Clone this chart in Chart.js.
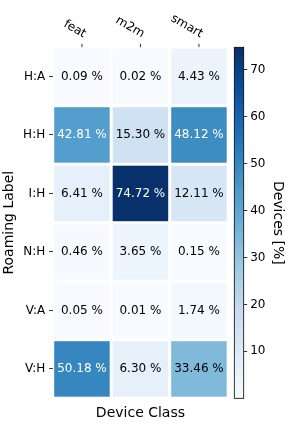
<!DOCTYPE html>
<html><head><meta charset="utf-8">
<script src="https://cdn.jsdelivr.net/npm/chart.js@4"></script>
<style>
html,body{margin:0;padding:0;background:#fff;}
#wrap{position:relative;width:288px;height:432px;}
canvas{position:absolute;left:0;top:0;}
</style>
</head><body>
<div id="wrap"><canvas id="main" width="288" height="432"></canvas><canvas id="cb" width="288" height="432"></canvas></div>
<script>
const deviceClasses = ['feat', 'm2m', 'smart'];
const roamingLabels = ['H:A', 'H:H', 'I:H', 'N:H', 'V:A', 'V:H'];
const featValues  = [0.09, 42.81, 6.41, 0.46, 0.05, 50.18];
const m2mValues   = [0.02, 15.30, 74.72, 3.65, 0.01, 6.30];
const smartValues = [4.43, 48.12, 12.11, 0.15, 1.74, 33.46];
const colorbarTicks = [10, 20, 30, 40, 50, 60, 70];

const FONT = "'DejaVu Sans', sans-serif";
const columns = [featValues, m2mValues, smartValues];
const allVals = columns.flat();
const vmin = Math.min(...allVals);
const vmax = Math.max(...allVals);

const BLUES = ['#f7fbff','#deebf7','#c6dbef','#9ecae1','#6baed6','#4292c6','#2171b5','#08519c','#08306b'];
function hex2rgb(h){return [1,3,5].map(i=>parseInt(h.slice(i,i+2),16));}
const BLUES_RGB = BLUES.map(hex2rgb);
function blues(t){
  t = Math.max(0, Math.min(1, t));
  const s = t * (BLUES_RGB.length - 1);
  const i = Math.min(Math.floor(s), BLUES_RGB.length - 2);
  const f = s - i;
  const a = BLUES_RGB[i], b = BLUES_RGB[i+1];
  return 'rgb(' + a.map((v,k)=>Math.round(v + (b[k]-v)*f)).join(',') + ')';
}
function norm(v){ return (v - vmin) / (vmax - vmin); }

const cellData = [];
columns.forEach((col, c) => col.forEach((v, r) => cellData.push({x: c, y: r, v: v})));

const heatPlugin = {
  id: 'heat',
  beforeDatasetsDraw(chart){
    const ctx = chart.ctx, xs = chart.scales.x, ys = chart.scales.y;
    const pts = chart.data.datasets[0].data;
    ctx.save();
    pts.forEach(p => {
      const xa = xs.getPixelForValue(p.x - 0.5), xb = xs.getPixelForValue(p.x + 0.5);
      const ya = ys.getPixelForValue(p.y - 0.5), yb = ys.getPixelForValue(p.y + 0.5);
      const l = Math.min(xa, xb) + 1.5, r = Math.max(xa, xb) - 1.5;
      const t = Math.min(ya, yb) + 1.5, b = Math.max(ya, yb) - 1.5;
      ctx.fillStyle = blues(norm(p.v));
      ctx.fillRect(l, t, r - l, b - t);
      ctx.fillStyle = norm(p.v) > 0.5 ? '#ffffff' : '#000000';
      ctx.font = '12px ' + FONT;
      ctx.textAlign = 'center';
      ctx.textBaseline = 'middle';
      ctx.fillText(p.v.toFixed(2) + ' %', (l + r) / 2, (t + b) / 2);
    });
    // top x ticks and rotated labels
    const top = chart.chartArea.top;
    ctx.strokeStyle = '#000'; ctx.lineWidth = 0.8;
    deviceClasses.forEach((lab, c) => {
      const px = xs.getPixelForValue(c);
      ctx.beginPath(); ctx.moveTo(px, top); ctx.lineTo(px, top - 3.5); ctx.stroke();
      ctx.save();
      ctx.translate(px, top - 7);
      ctx.rotate(30 * Math.PI / 180);
      ctx.fillStyle = '#000';
      ctx.font = '12px ' + FONT;
      ctx.textAlign = 'right';
      ctx.textBaseline = 'bottom';
      ctx.fillText(lab, 0, 0);
      ctx.restore();
    });
    ctx.restore();
  }
};

new Chart(document.getElementById('main'), {
  type: 'scatter',
  data: { datasets: [{ data: cellData, pointRadius: 0, pointHoverRadius: 0 }] },
  options: {
    responsive: false, animation: false, events: [],
    layout: { padding: { left: 0, right: 288 - 228.2, top: 0, bottom: 0 } },
    plugins: { legend: { display: false }, tooltip: { enabled: false } },
    scales: {
      x: {
        type: 'linear', position: 'top', min: -0.5, max: 2.5,
        ticks: { display: false }, grid: { display: false }, border: { display: false },
        afterFit(s){ s.height = 47.2; }
      },
      x2: {
        type: 'linear', position: 'bottom', min: -0.5, max: 2.5,
        ticks: { display: false }, grid: { display: false }, border: { display: false },
        title: { display: true, text: 'Device Class', color: '#000', font: { family: FONT, size: 14 }, padding: { top: 0, bottom: 10.6 } },
        afterFit(s){ s.height = 432 - 398.2; }
      },
      y: {
        type: 'linear', position: 'left', min: -0.5, max: 5.5, reverse: true,
        afterBuildTicks(s){ s.ticks = roamingLabels.map((_, i) => ({ value: i })); },
        ticks: { color: '#000', font: { family: FONT, size: 12 }, padding: 4, callback: v => roamingLabels[v] },
        grid: { drawOnChartArea: false, drawTicks: true, tickLength: 3.5, tickColor: '#000', tickWidth: 0.8 },
        border: { display: false },
        title: { display: true, text: 'Roaming Label', color: '#000', font: { family: FONT, size: 14 }, padding: { top: 1, bottom: 0 } },
        afterFit(s){ s.width = 52.7; }
      }
    }
  },
  plugins: [heatPlugin]
});

const cbPlugin = {
  id: 'cbar',
  beforeDatasetsDraw(chart){
    const ctx = chart.ctx, a = chart.chartArea, ys = chart.scales.y;
    const g = ctx.createLinearGradient(0, ys.getPixelForValue(vmin), 0, ys.getPixelForValue(vmax));
    BLUES.forEach((c, i) => g.addColorStop(i / (BLUES.length - 1), c));
    ctx.save();
    ctx.fillStyle = g;
    ctx.fillRect(a.left, a.top, a.right - a.left, a.bottom - a.top);
    ctx.strokeStyle = '#000'; ctx.lineWidth = 0.8;
    ctx.strokeRect(a.left, a.top, a.right - a.left, a.bottom - a.top);
    ctx.restore();
  }
};

new Chart(document.getElementById('cb'), {
  type: 'scatter',
  data: { datasets: [{ data: [], pointRadius: 0 }] },
  options: {
    responsive: false, animation: false, events: [],
    layout: { padding: { left: 234.3, right: 0, top: 47.3, bottom: 432 - 398.3 } },
    plugins: { legend: { display: false }, tooltip: { enabled: false } },
    scales: {
      x: { type: 'linear', display: false, min: 0, max: 1 },
      y: {
        type: 'linear', position: 'right', min: vmin, max: vmax,
        afterBuildTicks(s){ s.ticks = colorbarTicks.map(v => ({ value: v })); },
        ticks: { color: '#000', font: { family: FONT, size: 12 }, padding: 3 },
        grid: { drawOnChartArea: false, drawTicks: true, tickLength: 3.5, tickColor: '#000', tickWidth: 0.8 },
        border: { display: false },
        title: { display: true, text: 'Devices [%]', color: '#000', font: { family: FONT, size: 14 }, padding: { top: 2, bottom: 0 } },
        afterFit(s){ s.width = 288 - 243.7; }
      }
    }
  },
  plugins: [cbPlugin]
});
</script>
</body></html>
